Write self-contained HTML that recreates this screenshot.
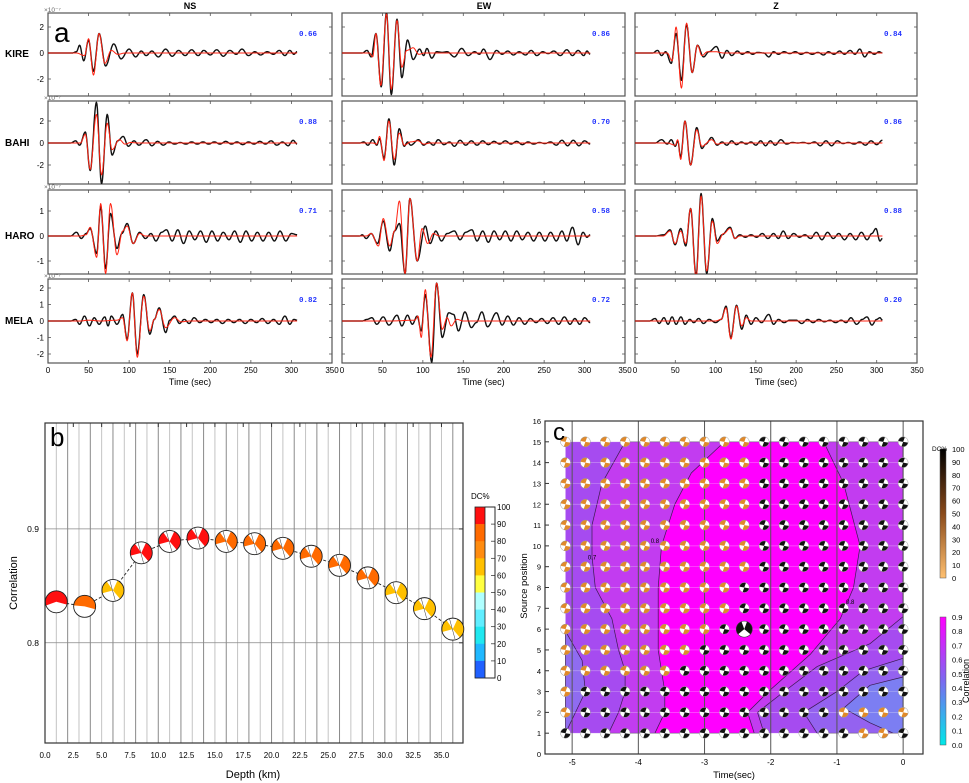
<!DOCTYPE html>
<html><head><meta charset="utf-8"><title>Moment tensor inversion results</title>
<style>
html,body{margin:0;padding:0;background:#fff;}
svg{display:block;font-family:"Liberation Sans",sans-serif;}
</style></head>
<body>
<svg id="fig" width="969" height="783" viewBox="0 0 969 783" xmlns="http://www.w3.org/2000/svg">
  <text x="190" y="9" font-size="9" font-weight="bold" text-anchor="middle">NS</text>
  <text x="484" y="9" font-size="9" font-weight="bold" text-anchor="middle">EW</text>
  <text x="776" y="9" font-size="9" font-weight="bold" text-anchor="middle">Z</text>
  <text x="5" y="57" font-size="10" font-weight="bold">KIRE</text>
  <text x="5" y="146" font-size="10" font-weight="bold">BAHI</text>
  <text x="5" y="239" font-size="10" font-weight="bold">HARO</text>
  <text x="5" y="324" font-size="10" font-weight="bold">MELA</text>
</svg>
<script>
// ---------- Panel a data (amplitudes in 1e-7 units; [time s, amplitude] extrema) ----------
const kireNS_obs=[[30,0],[35,0.1],[39,0.6],[44,-0.6],[50,1.0],[56,-1.4],[63,1.5],[71,-1.0],[81,0.7],[90,-0.45],[100,0.3],[108,-0.3],[115,0.15],[121,-0.2],[128,0.15],[136,-0.3],[145,0.3],[153,-0.25],[161,0.2],[169,-0.2],[177,0.25],[185,-0.2],[192,0.2],[200,-0.15],[208,0.25],[216,-0.25],[224,0.2],[232,-0.1],[239,0.3],[247,-0.2],[255,0.1],[262,-0.15],[270,0.1],[278,-0.1],[285,0.2],[292,-0.2],[298,0.2],[303,-0.1],[307,0.1]];
const kireNS_syn=[[35,0],[45,-0.2],[50,1.1],[56,-1.7],[63,1.5],[70,-0.8],[78,0.2],[86,-0.1],[95,0],[307,0]];
const kireEW_obs=[[25,0],[31,0.2],[36,-0.3],[42,1.5],[48.5,-2.6],[55,3.1],[61,-3.2],[68,2.6],[74,-1.9],[81,1.0],[88,-0.5],[96,0.3],[101,-0.2],[105,0.35],[111,-0.4],[117,0.1],[124,0.05],[130,0.1],[139,-0.3],[148,0.35],[156,-0.2],[164,0.1],[170,-0.1],[175,0.3],[183,-0.5],[191,0.2],[198,-0.1],[205,0.15],[212,-0.15],[219,0.1],[227,-0.15],[234,0.2],[241,-0.2],[248,0.1],[255,-0.05],[262,0.15],[270,-0.2],[278,0.25],[285,-0.2],[292,0.2],[299,-0.2],[303,0.15],[307,-0.1]];
const kireEW_syn=[[34,0],[38,-0.3],[42,1.5],[48,-2.5],[55,3.0],[61,-2.8],[68,2.5],[74,-1.1],[80,0.2],[88,0.4],[95,-0.1],[102,0],[307,0]];
const kireZ_obs=[[22,0],[28,0.2],[33,-0.2],[38,0.1],[45,-0.8],[51,1.5],[57.6,-2.1],[64,2.2],[71,-1.5],[77.5,0.6],[85,-0.3],[92,0.1],[101,0.5],[108,-0.4],[114,0.2],[120,-0.2],[127,0.15],[133,-0.1],[140,0.1],[146,-0.1],[152,0.05],[160,0],[166,-0.3],[172,0.1],[178,-0.1],[185,0.1],[192,-0.05],[199,0.1],[206,-0.1],[213,0.05],[220,-0.1],[227,0.05],[234,-0.15],[240,0.1],[247,-0.1],[254,0.15],[260,-0.1],[267,0.2],[273,-0.1],[279,0.3],[285,-0.3],[291,0.1],[297,-0.1],[303,0.1],[307,0]];
const kireZ_syn=[[40,0],[46,-0.6],[51,2.0],[57.6,-2.7],[64,2.3],[71,-1.5],[77.5,0.6],[83,-0.2],[90,0.1],[100,0.1],[110,0],[307,0]];
const bahiNS_obs=[[28,0],[34,0.2],[39,-0.2],[46,1.0],[52,-2.5],[59.7,3.7],[66,-3.7],[73,2.6],[79,-1.1],[86,0.2],[92.6,0.6],[99,-0.3],[106,0.2],[112,-0.2],[121,0.3],[128,-0.25],[135,0.15],[142,-0.2],[149,0.1],[156,-0.1],[163,0.05],[170,-0.1],[177,0.1],[184,-0.1],[191,0.1],[198,-0.1],[205,0.1],[212,-0.1],[219,0.15],[226,-0.1],[233,0.1],[240,-0.15],[247,0.1],[254,-0.1],[261,0.15],[268,-0.1],[275,0.2],[282,-0.2],[289,0.1],[296,-0.25],[302,0.25],[307,-0.1]];
const bahiNS_syn=[[40,0],[46,0.8],[52,-2.4],[59.7,2.6],[66,-2.9],[73,1.8],[79,-0.6],[88,0.3],[95,-0.1],[102,0.05],[110,0],[307,0]];
const bahiEW_obs=[[22,0],[27,0.1],[32,-0.2],[38,0.3],[43,-0.2],[46.5,0.4],[52,-1.4],[58,2.2],[64.6,-2.0],[70.8,1.3],[77,-0.3],[81,0.1],[85,-0.2],[94.7,0.3],[101,-0.2],[107,0.1],[113,-0.2],[119,0.3],[126,-0.15],[133,0.1],[139,-0.3],[146,0.25],[153,-0.2],[160,0.2],[167,-0.2],[174,0.2],[181,-0.15],[188,0.15],[195,-0.1],[202,0.2],[209,-0.1],[216,0.15],[223,-0.15],[230,0.1],[237,-0.1],[244,0.05],[251,-0.05],[258,0.1],[265,-0.2],[272,0.25],[279,-0.25],[286,0.25],[293,-0.25],[300,0.2],[307,-0.1]];
const bahiEW_syn=[[38,0],[43,-0.1],[46.5,0.6],[52,-1.6],[58,2.0],[64.6,-1.5],[70.8,0.9],[77,-0.2],[85,0.1],[94,0.2],[101,-0.1],[110,0],[307,0]];
const bahiZ_obs=[[25,0],[33,0.3],[40,-0.1],[45,0.3],[50,-0.3],[53,0.2],[56.7,-1.3],[62,2.0],[69,-2.0],[76.6,1.4],[83,-0.5],[88,-0.1],[95,0.5],[102,-0.2],[108,0.1],[114,-0.2],[120,0.2],[126,-0.15],[132,0.1],[138,-0.1],[144,0.1],[150,-0.2],[156,0.2],[162,-0.25],[168,0.2],[174,-0.2],[181,0.3],[188,-0.1],[195,0.05],[202,0],[209,0.05],[216,-0.05],[223,0.1],[230,-0.25],[237,0.2],[244,-0.25],[251,0.2],[258,-0.05],[265,0.05],[272,-0.1],[279,0.1],[286,-0.2],[293,0.2],[300,-0.15],[307,0.25]];
const bahiZ_syn=[[40,0],[50,-0.2],[53,0.3],[56.7,-1.5],[62,2.0],[69,-2.0],[76.6,1.2],[83,-0.3],[95,0.3],[102,-0.1],[110,0],[307,0]];
const haroNS_obs=[[28,0],[35,0.15],[41,-0.1],[47,0.1],[52,0.3],[60,-0.7],[65,1.2],[71,-1.3],[77,0.9],[85,-0.5],[91,0.1],[97.5,0.5],[105,-0.3],[113,0.15],[120,-0.1],[127,0.1],[133,-0.2],[140,0.15],[146,0.25],[153,-0.2],[160,0.25],[167,-0.3],[174,0.2],[181,-0.15],[188,0.2],[195,-0.25],[202,0.2],[209,-0.2],[216,0.15],[223,-0.15],[230,0.2],[237,-0.25],[244,0.2],[251,-0.2],[258,0.15],[265,-0.2],[272,0.15],[279,-0.2],[286,0.2],[293,-0.2],[300,0.1],[307,0.05]];
const haroNS_syn=[[40,0],[47,0.05],[52,0.35],[60,-0.85],[65,1.3],[71,-1.5],[77,1.3],[85,-0.75],[92,0.2],[97.5,0.4],[105,-0.3],[113,0.1],[120,0],[307,0]];
const haroEW_obs=[[22,0],[25,0.05],[30,-0.1],[36,0.1],[44,-0.3],[51,0.6],[59,-0.6],[65,0.2],[71,0.5],[78,-1.5],[84,1.5],[93,-1.0],[103,0.4],[109,-0.3],[116,0.2],[123,-0.2],[130,0.1],[139,0.2],[146,-0.15],[153,0.15],[160.6,0.25],[167,-0.2],[174,0.2],[181,-0.25],[188,0.2],[195,-0.15],[202,0.2],[209,-0.2],[216,0.2],[223,-0.15],[230,0.15],[237,-0.2],[244,0.15],[251,-0.2],[258,0.15],[265,-0.2],[272,0.2],[278,-0.2],[285,0.35],[292,-0.35],[298,0.15],[303,-0.05],[307,0.05]];
const haroEW_syn=[[30,0],[36,0.1],[45,-0.4],[51,0.7],[59,-0.4],[65,0.2],[71,1.4],[78,-1.5],[84,1.5],[93,-1.0],[99,0.3],[106,-0.3],[113,0.1],[120,0],[307,0]];
const haroZ_obs=[[25,0],[36,0.05],[43.5,0.25],[49.7,-0.35],[56.8,0.3],[63,-0.4],[69,1.1],[75.8,-1.6],[82,1.7],[89,-1.5],[96,0.7],[102,-0.2],[108,0.05],[118,0.35],[124,-0.1],[130,0.05],[137,-0.05],[144,0.05],[151,-0.05],[158,0.1],[165,-0.1],[172,0.1],[178,-0.1],[184,0.2],[190,-0.1],[197,0.1],[204,-0.05],[211,0.05],[218,-0.1],[225,0.15],[232,-0.15],[239,0.15],[246,-0.1],[253,0.1],[260,-0.15],[267,0.1],[274,-0.15],[281,0.15],[288,-0.15],[294,0.1],[299,0.3],[304,-0.2],[307,-0.1]];
const haroZ_syn=[[35,0],[43.5,0.2],[49.7,-0.3],[56.8,0.2],[63,-0.3],[69,1.1],[75.8,-1.7],[82,1.6],[89,-1.4],[96,0.6],[102,-0.3],[110,0.1],[118,0.3],[124,-0.1],[130,0],[307,0]];
const melaNS_obs=[[28,0],[34,0.1],[39,-0.2],[45,0.3],[51,-0.3],[57,0.2],[63,-0.2],[70,0.25],[74,-0.3],[78,0.3],[85,-0.2],[92,0.4],[97.5,-1.1],[104,1.7],[110,-2.0],[118,1.6],[125.5,-0.8],[131,0.1],[137,0.8],[145,-0.7],[150,0.05],[156,0.3],[162,-0.15],[168,0.1],[174,-0.15],[180,0.2],[187,-0.1],[194,0.1],[201,-0.1],[208,0.1],[215,-0.15],[222,0.1],[229,-0.1],[236,0.1],[243,-0.15],[250,0.1],[257,-0.1],[264,0.15],[271,-0.15],[278,0.1],[285,-0.2],[292,0.3],[298,-0.2],[303,0.1],[307,0.05]];
const melaNS_syn=[[40,0],[50,0.05],[65,0],[85,0.05],[92,0.2],[97.5,-1.2],[104,1.7],[110,-2.2],[118,1.5],[125.5,-0.6],[131,0.1],[137,0.7],[145,-0.4],[156,0.2],[164,-0.05],[175,0],[307,0]];
const melaEW_obs=[[25,0],[31,0.1],[37,0.2],[43,-0.2],[51,0.25],[58,-0.25],[68,0.35],[74,-0.3],[81,0.35],[87,-0.2],[93,0.3],[98,-0.6],[103,1.6],[111,-2.5],[117,2.3],[124,-1.0],[132,0.5],[138,0.4],[144,-0.6],[152,0.55],[160,-0.4],[166,-0.1],[173,0.55],[180,-0.35],[191,0.5],[198,-0.25],[205,0.3],[212,-0.25],[219,0.2],[226,-0.2],[233,0.15],[240,-0.1],[247,0.15],[254,-0.15],[261,0.2],[268,-0.2],[275,0.25],[282,-0.2],[288,0.15],[294,-0.2],[300,0.2],[307,-0.1]];
const melaEW_syn=[[60,0],[90,0.05],[94,0.3],[98,-1.0],[103,1.9],[110,-2.2],[117,2.3],[124,-0.5],[130,0.2],[135,-0.3],[142,0.1],[150,0],[307,0]];
const melaZ_obs=[[18,0],[25,0.15],[30,-0.15],[36,0.2],[41,-0.2],[46,0.25],[51,-0.2],[57,0.25],[62,-0.2],[68,0.1],[73,-0.1],[79,0.15],[85,-0.15],[92,0.1],[100,-0.1],[107,0.1],[113,0.9],[119,-1.0],[126,0.95],[132.5,-0.5],[138,0.35],[144,-0.2],[150,0.2],[157,-0.1],[166,0.4],[172,-0.2],[178,0.1],[185,-0.1],[192,0.05],[200,0.05],[207,-0.15],[214,0.1],[221,-0.1],[228,0.1],[235,-0.05],[242,0.05],[249,-0.1],[256,0.05],[262,-0.1],[268,0.2],[275,-0.2],[282,0.1],[288,0.25],[294,-0.25],[300,0.1],[304,0.2],[307,0.05]];
const melaZ_syn=[[60,0],[100,0],[107,0.1],[113,0.8],[119,-1.1],[126,0.9],[132.5,-0.3],[138,0.2],[144,0],[307,0]];
const stations=['KIRE','BAHI','HARO','MELA'];
const components=['NS','EW','Z'];
const corrLabels=[['0.66','0.86','0.84'],['0.88','0.70','0.86'],['0.71','0.58','0.88'],['0.82','0.72','0.20']];
const timeTicks=[0,50,100,150,200,250,300,350];
const ampTicks=[[-2,0,2],[-2,0,2],[-1,0,1],[-2,-1,0,1,2]];

// ---------- Panel b data ----------
const depths=[1,3.5,6,8.5,11,13.5,16,18.5,21,23.5,26,28.5,31,33.5,36];
const depthCorr=[0.836,0.832,0.846,0.879,0.889,0.892,0.889,0.887,0.883,0.876,0.868,0.857,0.844,0.830,0.812];
const depthDC=[95,85,65,95,95,95,85,85,85,85,85,85,65,65,65];
const depthTicks=[0,2.5,5,7.5,10,12.5,15,17.5,20,22.5,25,27.5,30,32.5,35];
const corrTicks=[0.8,0.9];
const dcTickLabels=[100,90,80,70,60,50,40,30,20,10,0];

// ---------- Panel c data ----------
const gridTimes=[-5.1,-4.8,-4.5,-4.2,-3.9,-3.6,-3.3,-3.0,-2.7,-2.4,-2.1,-1.8,-1.5,-1.2,-0.9,-0.6,-0.3,0];
const gridPositions=[15,14,13,12,11,10,9,8,7,6,5,4,3,2,1];
const gridDC=["ooooooooookkkkkkkk","ooooooooookkkkkkkk","ooooooooookkkkkkkk","ooooooooookkkkkkkk","ooooooooookkkkkkkk","ooooooooookkkkkkkk","ooooooooookkkkkkkk","oooooooookkkkkkkkk","oooooooookkkkkkkkk","ooooooookkkkkkkkkk","oooooookkkkkkkkkkk","ooooookkkkkkkkkkkk","okkkkkkkkkkkkkkkkk","okkkkkkkkkkkkkoooo","kkkkkkkkkkkkkkkook"];
const bestSolution=[-2.4,6];
const contour07=[[-4.2,15],[0,15],[0,6.6],[-0.5,5.3],[-1.3,4.2],[-1.8,3],[-2.2,2],[-2.1,1],[-4.45,1],[-4.3,2],[-4.2,3],[-4.2,4],[-4.3,5],[-4.4,6.5],[-4.65,8],[-4.7,9.5],[-4.7,11],[-4.55,13]];
const contour08=[[-2.7,15],[-1.2,15],[-0.9,13],[-0.65,10],[-0.75,8],[-0.95,6.5],[-1.4,4.8],[-2.0,3.1],[-2.35,2],[-2.25,1],[-3.75,1],[-3.6,2],[-3.6,3],[-3.7,5],[-3.7,8],[-3.65,10],[-3.45,12],[-3.2,13.5]];
const contour06R=[[0,4.6],[-0.6,4],[-1.0,3],[-1.5,2],[-1.3,1],[0,1]];
const contour05R=[[0,3.7],[-0.5,3.3],[-0.9,2.2],[-0.5,1.5],[-0.15,1],[0,1]];
const contour06L=[[-5.1,5.9],[-4.85,4.5],[-4.8,3],[-5.1,1]];
const timeTicksC=[-5,-4,-3,-2,-1,0];
const posTicks=[0,1,2,3,4,5,6,7,8,9,10,11,12,13,14,15,16];
const dcTicksC=[100,90,80,70,60,50,40,30,20,10,0];
const corrTicksC=['0.9','0.8','0.7','0.6','0.5','0.4','0.3','0.2','0.1','0.0'];

const NS='http://www.w3.org/2000/svg';
const svg=document.getElementById('fig');
function mk(tag,attrs,parent){const e=document.createElementNS(NS,tag);for(const k in attrs)e.setAttribute(k,attrs[k]);(parent||svg).appendChild(e);return e;}
function txt(x,y,s,size,anchor,parent){const t=mk('text',{x:x,y:y,'font-size':size,'text-anchor':anchor||'start'},parent);t.textContent=s;return t;}

// ================= PANEL A =================
const colsA=[{x0:48,x1:332},{x0:342,x1:625},{x0:635,x1:917}];
const rowsA=[{y0:13,y1:96,zero:53,ppu:13},{y0:101,y1:184,zero:143,ppu:11},{y0:190,y1:274,zero:236,ppu:25},{y0:279,y1:363,zero:321,ppu:16.5}];
const obsAll=[[kireNS_obs,kireEW_obs,kireZ_obs],[bahiNS_obs,bahiEW_obs,bahiZ_obs],[haroNS_obs,haroEW_obs,haroZ_obs],[melaNS_obs,melaEW_obs,melaZ_obs]];
const synAll=[[kireNS_syn,kireEW_syn,kireZ_syn],[bahiNS_syn,bahiEW_syn,bahiZ_syn],[haroNS_syn,haroEW_syn,haroZ_syn],[melaNS_syn,melaEW_syn,melaZ_syn]];
const defs=mk('defs',{});
function tx(c,t){return c.x0+t/350*(c.x1-c.x0);}
function ay(r,a){return r.zero-a*r.ppu;}
function wavePath(pts,c,r){
  let prev=[0,0];let d='M'+tx(c,0).toFixed(1)+','+ay(r,0).toFixed(1);
  for(const p of pts){
    const n=Math.max(1,Math.ceil((p[0]-prev[0])/0.6));
    for(let i=1;i<=n;i++){const f=i/n;const t=prev[0]+(p[0]-prev[0])*f;const a=prev[1]+(p[1]-prev[1])*(1-Math.cos(Math.PI*f))/2;d+='L'+tx(c,t).toFixed(1)+','+ay(r,a).toFixed(1);}
    prev=p;
  }
  return d;
}
for(let ri=0;ri<4;ri++){
  for(let ci=0;ci<3;ci++){
    const c=colsA[ci],r=rowsA[ri];
    const g=mk('g',{});
    
    
    const cp=mk('clipPath',{id:'cp'+ri+ci},defs);
    mk('rect',{x:c.x0,y:r.y0,width:c.x1-c.x0,height:r.y1-r.y0},cp);
    const fr=mk('rect',{x:c.x0,y:r.y0,width:c.x1-c.x0,height:r.y1-r.y0,fill:'#fff',stroke:'#555','stroke-width':1.2},g);
    
    
    for(const tv of ampTicks[ri]){
      const y=ay(r,tv);
      mk('line',{x1:c.x0,x2:c.x0+3,y1:y,y2:y,stroke:'#555','stroke-width':0.8},g);
      mk('line',{x1:c.x1,x2:c.x1-3,y1:y,y2:y,stroke:'#555','stroke-width':0.8},g);
      if(ci===0){const lt=txt(c.x0-4,y+3,String(tv),8,'end',g);
        
        }
    }
    for(const tt of timeTicks){
      const x=tx(c,tt);
      mk('line',{x1:x,x2:x,y1:r.y1,y2:r.y1-3,stroke:'#555','stroke-width':0.8},g);
      mk('line',{x1:x,x2:x,y1:r.y0,y2:r.y0+3,stroke:'#555','stroke-width':0.8},g);
      if(ri===3){const lt=txt(x,373,String(tt),8,'middle',g);
        
        }
    }
    if(ri===3){const xl=txt((c.x0+c.x1)/2,385,'Time (sec)',9,'middle',g);
      
      }
    if(ci===0){const sc=txt(c.x0-4,r.y0-1,'×10⁻⁷',6.5,'start',g);sc.setAttribute('fill','#666');
      
      }
    const pb=mk('path',{d:wavePath(obsAll[ri][ci],c,r),fill:'none',stroke:'#111','stroke-width':1.4,'clip-path':'url(#cp'+ri+ci+')','stroke-linejoin':'round'},g);
    
    
    const pr=mk('path',{d:wavePath(synAll[ri][ci],c,r),fill:'none',stroke:'#f21','stroke-width':1,'clip-path':'url(#cp'+ri+ci+')','stroke-linejoin':'round'},g);
    
    
    const cl=txt(c.x1-24,r.y0+23,corrLabels[ri][ci],7.5,'middle',g);
    cl.setAttribute('fill','#2233ff');cl.setAttribute('font-weight','bold');cl.setAttribute('font-family','"Liberation Mono",monospace');
    
    
  }
}
const la=txt(54,42,'a',28,'start');



// ================= beachball helper =================
function wedge(cx,cy,r,a1,a2,fill,parent){
  const p=a=>[cx+r*Math.cos(a*Math.PI/180),cy+r*Math.sin(a*Math.PI/180)];
  const s=p(a1),e=p(a2);const large=((a2-a1)%360)>180?1:0;
  return mk('path',{d:`M${cx},${cy}L${s[0].toFixed(2)},${s[1].toFixed(2)}A${r},${r} 0 ${large} 1 ${e[0].toFixed(2)},${e[1].toFixed(2)}Z`,fill:fill},parent);
}
function dcColor(v){
  if(v>=90)return '#ff1010';if(v>=80)return '#ff6a00';if(v>=70)return '#ff8c10';if(v>=60)return '#ffc000';if(v>=50)return '#ffff40';
  if(v>=40)return '#b0ffff';if(v>=30)return '#60eeff';if(v>=20)return '#20e8f0';if(v>=10)return '#20b8ff';return '#2060ff';
}

// ================= PANEL B =================
const B={x0:45,x1:463,y0:423,y1:743,xmin:0,xmax:36.9,ymin:0.712,ymax:0.993};
function bx(v){return B.x0+(v-B.xmin)/(B.xmax-B.xmin)*(B.x1-B.x0);}
function by(v){return B.y1-(v-B.ymin)/(B.ymax-B.ymin)*(B.y1-B.y0);}
const gb=mk('g',{});


mk('rect',{x:B.x0,y:B.y0,width:B.x1-B.x0,height:B.y1-B.y0,fill:'#fff'},gb);
for(let k=1;k<=36;k++){
  const gl=mk('line',{x1:bx(k),x2:bx(k),y1:B.y0,y2:B.y1,stroke:k%2===0?'#8a8a8a':'#c4c4c4','stroke-width':1},gb);
  
  
}
for(const cv of corrTicks){
  const hl=mk('line',{x1:B.x0,x2:B.x1,y1:by(cv),y2:by(cv),stroke:'#888','stroke-width':0.8},gb);
  
  
  const lt=txt(B.x0-6,by(cv)+3,String(cv),8.5,'end',gb);
  
  
  mk('line',{x1:B.x1,x2:B.x1-4,y1:by(cv),y2:by(cv),stroke:'#333'},gb);
}
mk('rect',{x:B.x0,y:B.y0,width:B.x1-B.x0,height:B.y1-B.y0,fill:'none',stroke:'#333','stroke-width':1.2},gb);
for(const dt of depthTicks){
  mk('line',{x1:bx(dt),x2:bx(dt),y1:B.y0,y2:B.y0+4,stroke:'#333'},gb);
  const lt=txt(bx(dt),758,dt.toFixed(1),8,'middle',gb);
  
  
}
const bxT=txt(253,778,'Depth (km)',11,'middle',gb);


const byT=txt(0,0,'Correlation',11,'middle',gb);byT.setAttribute('transform','translate(17,583) rotate(-90)');


let dl='';depths.forEach((d,i)=>{dl+=(i?'L':'M')+bx(d).toFixed(1)+','+by(depthCorr[i]).toFixed(1);});
const dash=mk('path',{d:dl,fill:'none',stroke:'#222','stroke-width':0.9,'stroke-dasharray':'3,2'},gb);


depths.forEach((d,i)=>{
  const cx=bx(d),cy=by(depthCorr[i]),r=11,col=dcColor(depthDC[i]);
  const g=mk('g',{},gb);
  
  
  mk('circle',{cx:cx,cy:cy,r:r,fill:'#fff'},g);
  if(i<2){wedge(cx,cy,r,i===0?160:185,i===0?375:375,col,g);}
  else{mk('circle',{cx:cx,cy:cy,r:r,fill:col},g);wedge(cx,cy,r,235,295,'#fff',g);wedge(cx,cy,r,50,165,'#fff',g);
    mk('line',{x1:cx-r*0.3,y1:cy-r*0.95,x2:cx+r*0.2,y2:cy+r*0.9,stroke:'#333','stroke-width':0.5},g);}
  mk('circle',{cx:cx,cy:cy,r:r,fill:'none',stroke:'#222','stroke-width':0.9},g);
});
const lb=txt(50,446,'b',26,'start');


// colorbar b
const cbB=mk('g',{});


const cbTop=507,cbBot=678,cbH=(cbBot-cbTop)/10;
for(let k=0;k<10;k++){mk('rect',{x:475,y:cbTop+k*cbH,width:10,height:cbH+0.3,fill:dcColor(95-k*10)},cbB);}
mk('rect',{x:485,y:cbTop,width:10,height:cbBot-cbTop,fill:'#fff',stroke:'#222','stroke-width':0.8},cbB);
mk('rect',{x:475,y:cbTop,width:20,height:cbBot-cbTop,fill:'none',stroke:'#222','stroke-width':0.8},cbB);
dcTickLabels.forEach((v,k)=>{const y=cbTop+k*cbH;mk('line',{x1:491,x2:495,y1:y,y2:y,stroke:'#222','stroke-width':0.7},cbB);
  const lt=txt(497,y+3,String(v),8,'start',cbB);
  
  });
const dcT=txt(471,499,'DC%',8,'start',cbB);



// ================= PANEL C =================
const C={x0:545,x1:923,y0:421,y1:754,xmin:-5.41,xmax:0.30,ymin:0,ymax:16};
function cx_(v){return C.x0+(v-C.xmin)/(C.xmax-C.xmin)*(C.x1-C.x0);}
function cy_(v){return C.y1-(v-C.ymin)/(C.ymax-C.ymin)*(C.y1-C.y0);}
const gc=mk('g',{});


mk('rect',{x:C.x0,y:C.y0,width:C.x1-C.x0,height:C.y1-C.y0,fill:'#fff'},gc);
function poly(pts,fill,name){const p=mk('polygon',{points:pts.map(q=>cx_(q[0]).toFixed(1)+','+cy_(q[1]).toFixed(1)).join(' '),fill:fill,stroke:'#3a1a50','stroke-width':0.7},gc);
  
  return p;}
const base=mk('rect',{x:cx_(-5.1),y:cy_(15),width:cx_(0)-cx_(-5.1),height:cy_(1)-cy_(15),fill:'#a64bf0'},gc);


poly(contour07,'#c23cf0','contour-0-7-region');
poly(contour08,'#ff00ff','contour-0-8-region');
poly(contour06R,'#9462f0','contour-0-6-region-right');
poly(contour05R,'#7c7ef2','contour-0-5-region-right');
poly(contour06L,'#8f6cf0','contour-0-6-region-left');
for(const pv of posTicks){
  if(pv>=1&&pv<=15)mk('line',{x1:C.x0,x2:C.x1,y1:cy_(pv),y2:cy_(pv),stroke:'rgba(255,255,255,0.35)','stroke-width':0.7},gc);
  mk('line',{x1:C.x0,x2:C.x0+4,y1:cy_(pv),y2:cy_(pv),stroke:'#333'},gc);
  const lt=txt(C.x0-4,cy_(pv)+3,String(pv),7.5,'end',gc);
  
  
}
for(const tv of timeTicksC){
  const vl=mk('line',{x1:cx_(tv),x2:cx_(tv),y1:C.y0,y2:C.y1,stroke:'#555','stroke-width':1},gc);
  
  
  const lt=txt(cx_(tv),765,String(tv),8,'middle',gc);
  
  
}
const l07=txt(cx_(-4.7),cy_(9.35),'0.7',6,'middle',gc);


const l08=txt(cx_(-3.75),cy_(10.15),'0.8',6,'middle',gc);


const l08b=txt(cx_(-0.8),cy_(7.2),'0.8',6,'middle',gc);


gridPositions.forEach((pv,ri)=>{
  gridTimes.forEach((tv,ci)=>{
    const x=cx_(tv),y=cy_(pv),r=5;const col=gridDC[ri][ci]==='o'?'#e0892a':'#111';
    const g=mk('g',{},gc);
    
    
    mk('circle',{cx:x,cy:y,r:r,fill:'#fff'},g);
    wedge(x,y,r,190,290,col,g);wedge(x,y,r,10,110,col,g);
    mk('circle',{cx:x,cy:y,r:r,fill:'none',stroke:'#999','stroke-width':0.5},g);
  });
});
const best=mk('g',{},gc);


{const x=cx_(bestSolution[0]),y=cy_(bestSolution[1]),r=8;
 mk('circle',{cx:x,cy:y,r:r,fill:'#111'},best);wedge(x,y,r,40,140,'#fff',best);wedge(x,y,r,250,290,'#fff',best);
 mk('circle',{cx:x,cy:y,r:r,fill:'none',stroke:'#333','stroke-width':0.6},best);}
mk('rect',{x:C.x0,y:C.y0,width:C.x1-C.x0,height:C.y1-C.y0,fill:'none',stroke:'#333','stroke-width':1.2},gc);
const cxT=txt(734,778,'Time(sec)',9.5,'middle',gc);


const cyT=txt(0,0,'Source position',9.5,'middle',gc);cyT.setAttribute('transform','translate(527,586) rotate(-90)');


const lc=txt(553,440,'c',24,'start');


// colorbars c
const gradDefs=mk('linearGradient',{id:'dcGrad',x1:0,y1:0,x2:0,y2:1},defs);
mk('stop',{offset:'0','stop-color':'#000'},gradDefs);mk('stop',{offset:'0.5','stop-color':'#8a4a1a'},gradDefs);mk('stop',{offset:'1','stop-color':'#ffc070'},gradDefs);
const gradC=mk('linearGradient',{id:'corrGrad',x1:0,y1:0,x2:0,y2:1},defs);
mk('stop',{offset:'0','stop-color':'#ff00ff'},gradC);mk('stop',{offset:'0.5','stop-color':'#7a6af0'},gradC);mk('stop',{offset:'1','stop-color':'#00e8e8'},gradC);
const cbC=mk('g',{});


mk('rect',{x:940,y:449,width:6,height:129,fill:'url(#dcGrad)',stroke:'#555','stroke-width':0.5},cbC);
dcTicksC.forEach((v,k)=>{const y=449+k*12.9;const lt=txt(952,y+3,String(v),7.5,'start',cbC);
  
  });
const dcT2=txt(932,451,'DC%',6.5,'start',cbC);


const cbR=mk('g',{});


mk('rect',{x:940,y:617,width:6,height:128,fill:'url(#corrGrad)',stroke:'#555','stroke-width':0.5},cbR);
corrTicksC.forEach((v,k)=>{const y=617+k*14.2;const lt=txt(952,y+3,v,7.5,'start',cbR);
  
  });
const crT=txt(0,0,'Correlation',9,'middle',cbR);crT.setAttribute('transform','translate(969,681) rotate(-90)');


</script>
</body></html>
